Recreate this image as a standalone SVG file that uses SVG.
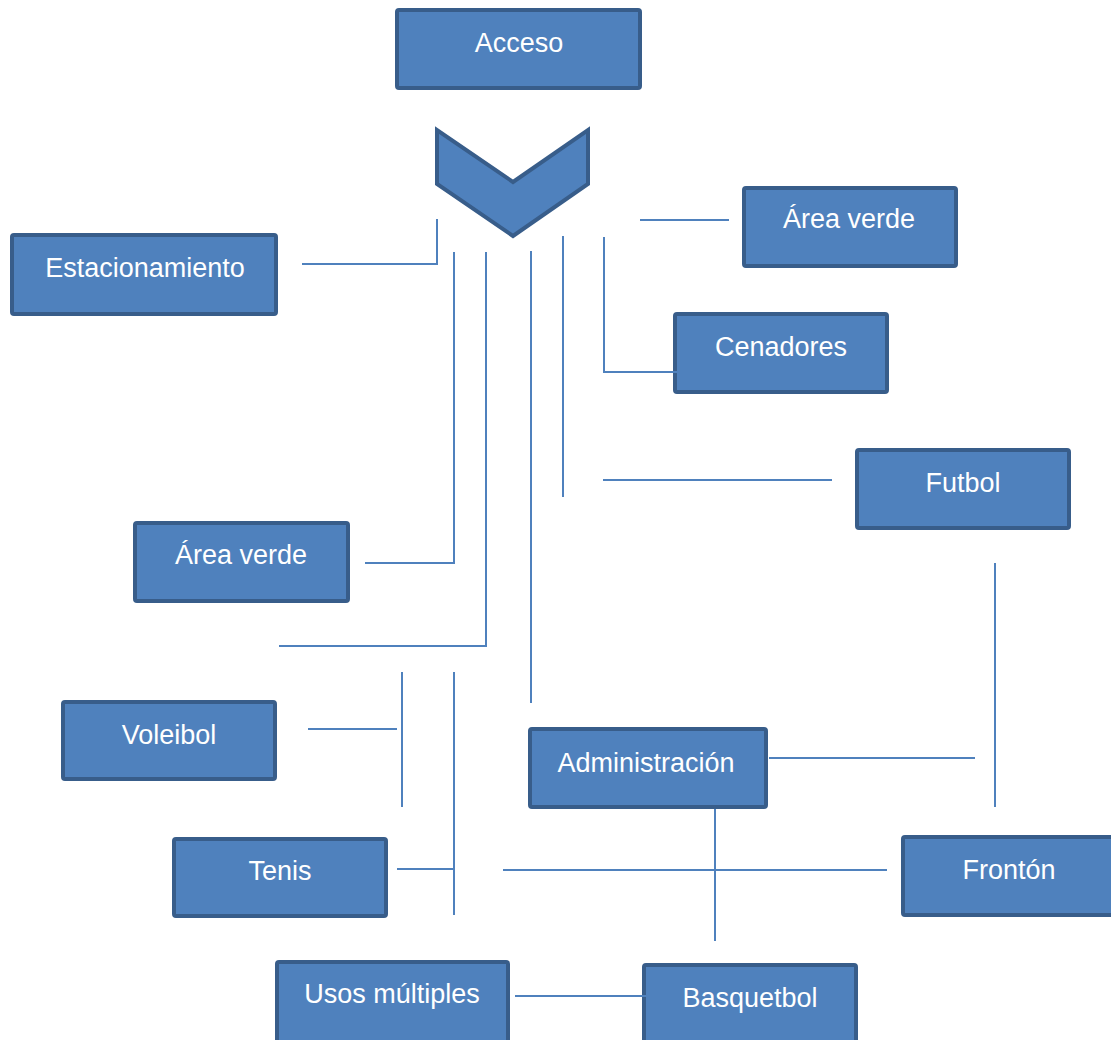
<svg xmlns="http://www.w3.org/2000/svg" width="1111" height="1040" viewBox="0 0 1111 1040">
<style>
.box{fill:#4F81BD;stroke:#385D8A;stroke-width:4;}
.lbl{fill:#FFFFFF;font-family:"Liberation Sans",Arial,sans-serif;font-size:27px;text-anchor:middle;}
.ln{fill:none;stroke:#4F81BD;stroke-width:2;}
</style>
<rect width="1111" height="1040" fill="#FFFFFF"/>
<g id="acceso"><rect class="box" x="397" y="10" width="243" height="78" rx="2"/><text class="lbl" x="519" y="52">Acceso</text></g>
<g id="flecha"><polygon class="box" points="437,130 437,184 513,236 588,184 588,130 513,182" stroke-linejoin="miter"/></g>
<g id="estacionamiento"><rect class="box" x="12" y="235" width="264" height="79" rx="2"/><text class="lbl" x="145" y="277">Estacionamiento</text></g>
<g id="area-verde-1"><rect class="box" x="744" y="188" width="212" height="78" rx="2"/><text class="lbl" x="849" y="228">Área verde</text></g>
<g id="cenadores"><rect class="box" x="675" y="314" width="212" height="78" rx="2"/><text class="lbl" x="781" y="356">Cenadores</text></g>
<g id="futbol"><rect class="box" x="857" y="450" width="212" height="78" rx="2"/><text class="lbl" x="963" y="492">Futbol</text></g>
<g id="area-verde-2"><rect class="box" x="135" y="523" width="213" height="78" rx="2"/><text class="lbl" x="241" y="564">Área verde</text></g>
<g id="voleibol"><rect class="box" x="63" y="702" width="212" height="77" rx="2"/><text class="lbl" x="169" y="744">Voleibol</text></g>
<g id="administracion"><rect class="box" x="530" y="729" width="236" height="78" rx="2"/><text class="lbl" x="646" y="772">Administración</text></g>
<g id="tenis"><rect class="box" x="174" y="839" width="212" height="77" rx="2"/><text class="lbl" x="280" y="880">Tenis</text></g>
<g id="fronton"><rect class="box" x="903" y="837" width="220" height="78" rx="2"/><text class="lbl" x="1009" y="879">Frontón</text></g>
<g id="usos-multiples"><rect class="box" x="277" y="962" width="231" height="85" rx="2"/><text class="lbl" x="392" y="1003">Usos múltiples</text></g>
<g id="basquetbol"><rect class="box" x="644" y="965" width="212" height="85" rx="2"/><text class="lbl" x="750" y="1007">Basquetbol</text></g>
<g id="connectors">
<polyline class="ln" points="302,264 437,264 437,219"/>
<polyline class="ln" points="454,252 454,563 365,563"/>
<polyline class="ln" points="486,252 486,646 279,646"/>
<line class="ln" x1="531" y1="251" x2="531" y2="703"/>
<line class="ln" x1="563" y1="236" x2="563" y2="497"/>
<line class="ln" x1="603" y1="480" x2="832" y2="480"/>
<polyline class="ln" points="604,237 604,372 692,372"/>
<line class="ln" x1="640" y1="220" x2="729" y2="220"/>
<line class="ln" x1="995" y1="563" x2="995" y2="807"/>
<line class="ln" x1="769" y1="758" x2="975" y2="758"/>
<line class="ln" x1="715" y1="809" x2="715" y2="941"/>
<line class="ln" x1="503" y1="870" x2="887" y2="870"/>
<line class="ln" x1="308" y1="729" x2="397" y2="729"/>
<line class="ln" x1="402" y1="672" x2="402" y2="807"/>
<line class="ln" x1="454" y1="672" x2="454" y2="915"/>
<line class="ln" x1="397" y1="869" x2="454" y2="869"/>
<line class="ln" x1="515" y1="996" x2="646" y2="996"/>
</g>
</svg>
